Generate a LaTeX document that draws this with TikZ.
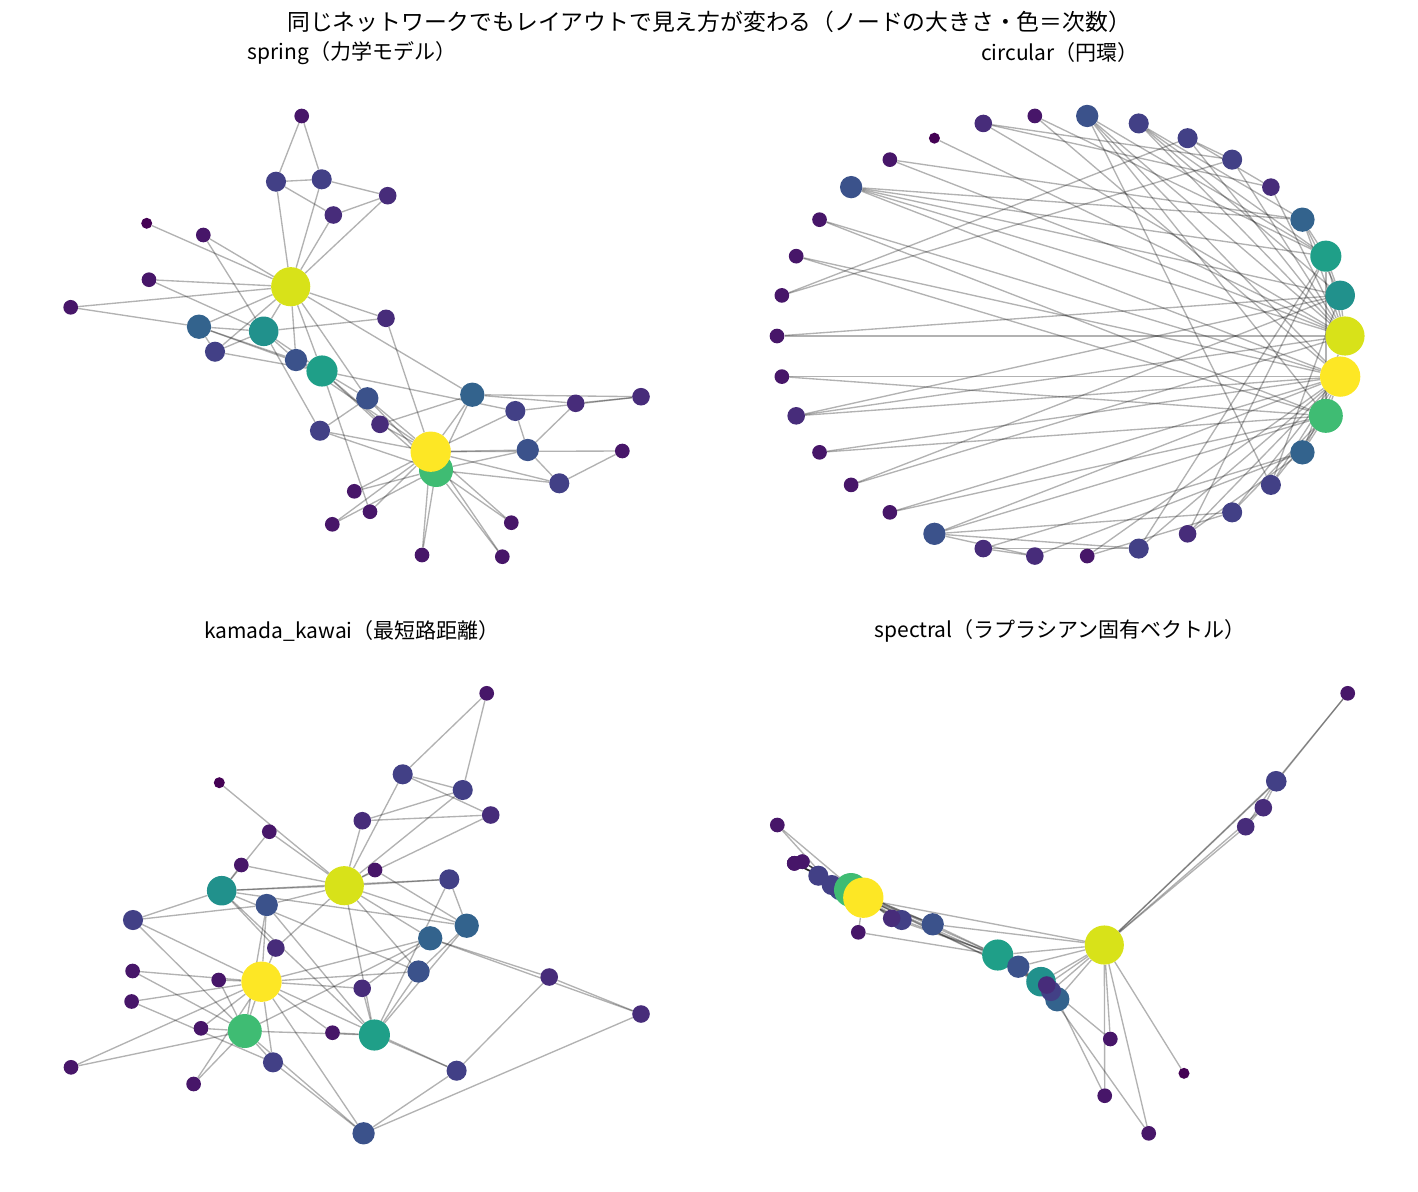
\documentclass[tikz,border=0pt]{standalone}
\usepackage{fontspec}
\usepackage{xcolor}
\usetikzlibrary{backgrounds}
\newfontfamily\jp{Noto Sans CJK JP}
\definecolor{deg1}{HTML}{440154}
\definecolor{deg2}{HTML}{471669}
\definecolor{deg3}{HTML}{472C7A}
\definecolor{deg4}{HTML}{424086}
\definecolor{deg5}{HTML}{3B528B}
\definecolor{deg6}{HTML}{33638D}
\definecolor{deg9}{HTML}{21918C}
\definecolor{deg10}{HTML}{1F9F88}
\definecolor{deg12}{HTML}{3FBC73}
\definecolor{deg16}{HTML}{D8E219}
\definecolor{deg17}{HTML}{FDE725}
\def\degs{{16,9,10,6,3,4,4,4,5,2,3,1,2,5,2,2,2,2,2,3,2,2,2,5,3,3,2,4,3,4,4,6,12,17}}
\newcommand\karate{0/1,0/2,0/3,0/4,0/5,0/6,0/7,0/8,0/10,0/11,0/12,0/13,0/17,0/19,0/21,0/31,
  1/2,1/3,1/7,1/13,1/17,1/19,1/21,1/30,2/3,2/7,2/8,2/9,2/13,2/27,2/28,2/32,3/7,3/12,3/13,
  4/6,4/10,5/6,5/10,5/16,6/16,8/30,8/32,8/33,9/33,13/33,14/32,14/33,15/32,15/33,18/32,18/33,
  19/33,20/32,20/33,22/32,22/33,23/25,23/27,23/29,23/32,23/33,24/25,24/27,24/31,25/31,
  26/29,26/33,27/33,28/31,28/33,29/32,29/33,30/32,30/33,31/32,31/33,32/33}

\begin{document}
\begin{tikzpicture}[x=1pt,y=-1pt,
  vtx/.style={circle,inner sep=0pt,fill=deg#1,minimum size={2*sqrt(7+23.5*#1)}},
  edge/.style={draw=black,draw opacity=0.3,line width=1.35pt},
  ttl/.style={font=\jp\fontsize{21}{25}\selectfont}]
\useasboundingbox (0,0) rectangle (1418,1191);
\node[font=\jp\fontsize{22.8}{27}\selectfont] (title) at (709,22) {同じネットワークでもレイアウトで見え方が変わる（ノードの大きさ・色＝次数）};
\node[ttl] (tspring) at (352,53) {spring（力学モデル）};
\node[ttl] (tcircular) at (1060,53) {circular（円環）};
\node[ttl] (tkamada) at (352,631) {kamada\_kawai（最短路距離）};
\node[ttl] (tspectral) at (1060,631) {spectral（ラプラシアン固有ベクトル）};

\foreach \i/\x/\y in {0/290.7/286.7,1/263.7/331.3,2/322/371,3/199/326.7,4/333.3/215,
  5/321.7/179.3,6/276/181.7,7/215/351.7,8/367.3/398.3,9/370/511.7,10/387.7/195.7,
  11/146.7/223.3,12/70.7/307.3,13/296/360,14/354.3/491.3,15/332.3/524.3,16/301.7/116,
  17/203.3/235,18/511.3/522.7,19/386/318.3,20/422/555,21/149/279.7,22/502.3/556.7,
  23/527.7/450,24/641/396.7,25/575.7/403.3,26/622.3/451,27/515.3/411,28/380/424.3,
  29/559.3/483.3,30/320/430.7,31/472.3/394.7,32/436/470,33/430.7/451.7}
  {\pgfmathtruncatemacro\d{\degs[\i]}
   \node[vtx=\d] (s\i) at (\x,\y) {};}

\foreach \i in {0,...,33}
  {\pgfmathtruncatemacro\d{\degs[\i]}
   \node[vtx=\d] (c\i) at ({1061+284*cos(360*\i/34)},{336-221*sin(360*\i/34)}) {};}

\foreach \i/\x/\y in {0/344.3/885.7,1/221.7/890.7,2/374.4/1035,3/466.7/925.7,4/362.3/820.7,
  5/402.7/774.3,6/462.7/790,7/449.3/879.3,8/266.7/905,9/332.5/1032.7,10/490.7/815,
  11/219.3/782.7,12/375/870,13/418.5/971.5,14/132.6/971,15/218.7/980,16/486.7/693.3,
  17/269.3/831.7,18/201/1028.3,19/275.8/948,20/71/1067.3,21/241.3/865,22/193.6/1084,
  23/363.6/1133.3,24/549.2/977,25/641/1014,26/131.6/1001.5,27/456.6/1070.7,28/362.2/988.3,
  29/273/1062.3,30/133/920,31/430.2/938.3,32/244.8/1031,33/261.5/981.7}
  {\pgfmathtruncatemacro\d{\degs[\i]}
   \node[vtx=\d] (k\i) at (\x,\y) {};}

\foreach \i/\x/\y in {0/1104.3/945,1/1041/981.7,2/997.7/955,3/1057.3/999.3,4/1263.3/807.7,
  5/1276/781,6/1276.5/781.5,7/1051/991,8/932.7/924.3,9/858.3/932.3,10/1245.7/826.7,
  11/1184/1073.3,12/1104.7/1095.7,13/1018.3/966.7,14/794.3/863.3,15/794.3/863.3,
  16/1347.7/693.3,17/1110.3/1039,18/794.3/863.3,19/1046.7/985,20/802.3/861.7,
  21/1148.7/1133.3,22/802.3/861.7,23/840/889,24/836/887,25/845/892,26/777.3/825,
  27/901.7/920,28/891.7/918.3,29/831.7/885,30/818.3/875.7,31/868/900,32/851/890,33/863.3/897.7}
  {\pgfmathtruncatemacro\d{\degs[\i]}
   \node[vtx=\d] (p\i) at (\x,\y) {};}

\begin{scope}[on background layer]
\foreach \p in {s,c,k,p}
  \foreach \a/\b in \karate
    \draw[edge] (\p\a) -- (\p\b);
\end{scope}
\end{tikzpicture}
\end{document}
